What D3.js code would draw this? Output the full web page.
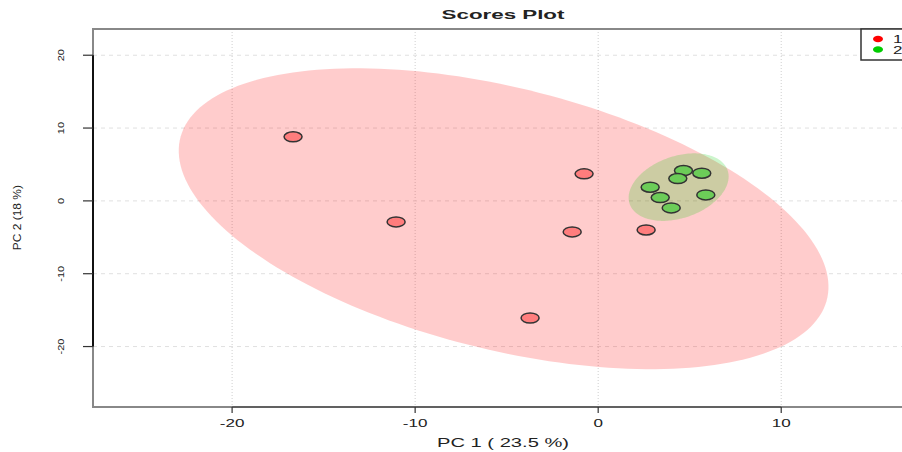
<!DOCTYPE html>
<html>
<head>
<meta charset="utf-8">
<script src="https://cdn.jsdelivr.net/npm/d3@7"></script>
<style>
  body { margin: 0; background: #fff; }
  text { font-family: "Liberation Sans", Arial, sans-serif; }
</style>
</head>
<body>
<div id="chart"></div>
<script>
// group 1 (red) and group 2 (green) scores
const group1X = [-16.67, -11.04, -0.77, -1.42, 2.62, -3.72];
const group1Y = [8.8, -2.89, 3.71, -4.26, -3.99, -16.08];
const group2X = [4.66, 5.66, 4.35, 2.84, 3.39, 5.88, 3.99];
const group2Y = [4.17, 3.8, 3.07, 1.88, 0.46, 0.82, -0.96];
const groupNames = ["1", "2"];
const xTicks = [-20, -10, 0, 10];
const yTicks = [20, 10, 0, -10, -20];
const titleText = "Scores Plot";
const xLabel = "PC 1 ( 23.5 %)";
const yLabel = "PC 2 (18 %)";

const width = 902;
const height = 452;
const plot = { left: 93, right: 913, top: 29, bottom: 407 };
const stretch = 1.55; // the picture is widened horizontally

const svg = d3.select("#chart").append("svg")
    .attr("width", width)
    .attr("height", height);

const x = d3.scaleLinear().domain([-27.6, 17.2]).range([plot.left, plot.right]);
const y = d3.scaleLinear().domain([23.6, -28.3]).range([plot.top, plot.bottom]);

svg.append("clipPath").attr("id", "clip")
    .append("rect")
    .attr("x", plot.left).attr("y", plot.top)
    .attr("width", plot.right - plot.left).attr("height", plot.bottom - plot.top);

const inner = svg.append("g").attr("clip-path", "url(#clip)");

// grid
inner.selectAll(".vgrid").data(xTicks).enter().append("line")
    .attr("x1", d => x(d)).attr("x2", d => x(d))
    .attr("y1", plot.top).attr("y2", plot.bottom)
    .attr("stroke", "#cfcfcf").attr("stroke-width", 1)
    .attr("stroke-dasharray", "1,2");
inner.selectAll(".hgrid").data(yTicks).enter().append("line")
    .attr("x1", plot.left).attr("x2", plot.right)
    .attr("y1", d => y(d)).attr("y2", d => y(d))
    .attr("stroke", "#e0e0e0").attr("stroke-width", 1)
    .attr("stroke-dasharray", "4,4");

// 95% confidence ellipse, same as ellipse::ellipse in R
function ellipsePoints(xs, ys) {
    const n = xs.length;
    const mx = d3.mean(xs), my = d3.mean(ys);
    const sx = d3.deviation(xs), sy = d3.deviation(ys);
    let cov = 0;
    for (let i = 0; i < n; i++) cov += (xs[i] - mx) * (ys[i] - my);
    cov /= (n - 1);
    const r = cov / (sx * sy);
    const d = Math.acos(r);
    const t = Math.sqrt(5.991465); // qchisq(0.95, 2)
    const pts = [];
    for (let k = 0; k < 200; k++) {
        const a = k / 200 * 2 * Math.PI;
        pts.push([mx + t * sx * Math.cos(a + d / 2), my + t * sy * Math.cos(a - d / 2)]);
    }
    return pts;
}

const line = d3.line().x(d => x(d[0])).y(d => y(d[1])).curve(d3.curveLinearClosed);

inner.append("path")
    .attr("d", line(ellipsePoints(group1X, group1Y)))
    .attr("fill", "rgb(255,0,0)").attr("fill-opacity", 0.2);
inner.append("path")
    .attr("d", line(ellipsePoints(group2X, group2Y)))
    .attr("fill", "rgb(0,205,0)").attr("fill-opacity", 0.2);

// points
function drawPoints(xs, ys, fill) {
    inner.append("g").selectAll("ellipse").data(xs).enter().append("ellipse")
        .attr("cx", d => x(d))
        .attr("cy", (d, i) => y(ys[i]))
        .attr("rx", 9).attr("ry", 5)
        .attr("fill", fill)
        .attr("stroke", "#333").attr("stroke-width", 1.5);
}
drawPoints(group1X, group1Y, "#ff7d7d");
drawPoints(group2X, group2Y, "#6ccc58");

// box
svg.append("rect")
    .attr("x", plot.left).attr("y", plot.top)
    .attr("width", plot.right - plot.left).attr("height", plot.bottom - plot.top)
    .attr("fill", "none").attr("stroke", "#888").attr("stroke-width", 2);

// axes
svg.append("line")
    .attr("x1", x(xTicks[0])).attr("x2", x(xTicks[xTicks.length - 1]))
    .attr("y1", plot.bottom).attr("y2", plot.bottom)
    .attr("stroke", "#555").attr("stroke-width", 1.5);
svg.append("line")
    .attr("x1", plot.left).attr("x2", plot.left)
    .attr("y1", y(yTicks[0])).attr("y2", y(yTicks[yTicks.length - 1]))
    .attr("stroke", "#111").attr("stroke-width", 2);

svg.selectAll(".xtick").data(xTicks).enter().append("line")
    .attr("x1", d => x(d)).attr("x2", d => x(d))
    .attr("y1", plot.bottom).attr("y2", plot.bottom + 6)
    .attr("stroke", "#333").attr("stroke-width", 1.2);
svg.selectAll(".ytick").data(yTicks).enter().append("line")
    .attr("x1", plot.left - 10).attr("x2", plot.left)
    .attr("y1", d => y(d)).attr("y2", d => y(d))
    .attr("stroke", "#333").attr("stroke-width", 1.2);

function wideText(px, py, str, size, weight, sx) {
    svg.append("g")
        .attr("transform", `translate(${px},${py}) scale(${sx || stretch},1)`)
        .append("text")
        .attr("text-anchor", "middle")
        .attr("font-size", size)
        .attr("font-weight", weight || "normal")
        .attr("fill", "#222")
        .text(str);
}

xTicks.forEach(d => wideText(x(d), 427, d, 11));
wideText((plot.left + plot.right) / 2, 447, xLabel, 12, "normal", 1.68);
wideText((plot.left + plot.right) / 2, 19, titleText, 13, "bold", 1.72);

yTicks.forEach(d => {
    svg.append("text")
        .attr("transform", `translate(64,${y(d)}) rotate(-90) scale(1,0.85)`)
        .attr("text-anchor", "middle")
        .attr("font-size", 11)
        .attr("fill", "#222")
        .text(d);
});
svg.append("text")
    .attr("transform", `translate(21,${y(-2.3)}) rotate(-90) scale(1,0.85)`)
    .attr("text-anchor", "middle")
    .attr("font-size", 12)
    .attr("fill", "#222")
    .text(yLabel);

// legend
const legend = svg.append("g");
legend.append("rect")
    .attr("x", 861).attr("y", plot.top)
    .attr("width", 60).attr("height", 31)
    .attr("fill", "#fff").attr("stroke", "#333").attr("stroke-width", 1.5);
const legendColors = ["#ff0000", "#00cc00"];
groupNames.forEach((g, i) => {
    legend.append("ellipse")
        .attr("cx", 878).attr("cy", 39 + i * 10.5)
        .attr("rx", 5).attr("ry", 3.2)
        .attr("fill", legendColors[i]);
    legend.append("g")
        .attr("transform", `translate(893,${43 + i * 10.5}) scale(${stretch},1)`)
        .append("text")
        .attr("font-size", 11)
        .attr("fill", "#222")
        .text(g);
});
</script>
</body>
</html>
